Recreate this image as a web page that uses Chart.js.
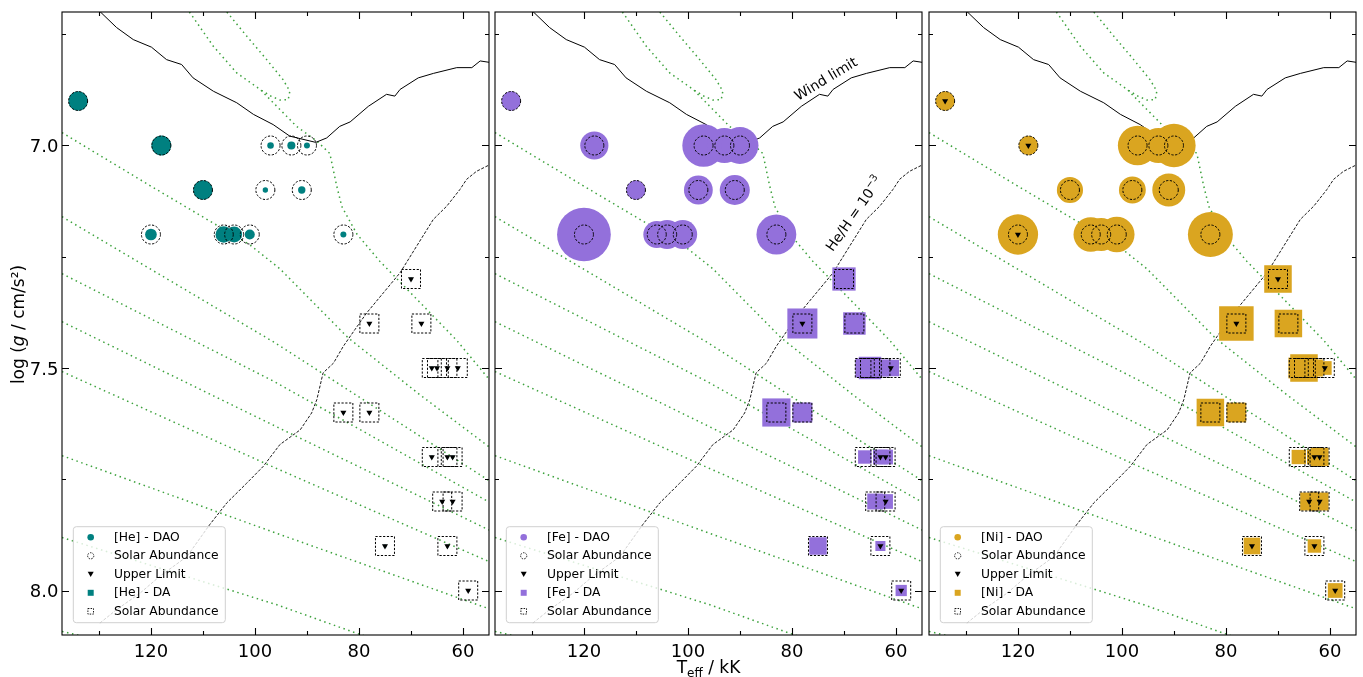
<!DOCTYPE html>
<html>
<head>
<meta charset="utf-8">
<script src="https://cdn.jsdelivr.net/npm/chart.js@4.4.1/dist/chart.umd.min.js"></script>
<style>
  html, body { margin: 0; padding: 0; background: #fff; }
  #wrap { position: relative; width: 1363px; height: 677px; }
  #wrap canvas { position: absolute; left: 0; top: 0; }
</style>
</head>
<body>
<div id="wrap">
  <canvas id="pHe" width="1363" height="677"></canvas>
  <canvas id="pFe" width="1363" height="677"></canvas>
  <canvas id="pNi" width="1363" height="677"></canvas>
</div>
<script>
// ---- stars: Teff (kK) and log g ----
const daoTeff = [134, 118, 97, 93, 90, 110, 98, 91, 120, 106, 104, 101, 83];
const daoLogg = [6.9, 7.0, 7.0, 7.0, 7.0, 7.1, 7.1, 7.1, 7.2, 7.2, 7.2, 7.2, 7.2];
const daTeff = [70, 78, 68, 66, 65, 63, 61, 83, 78, 66, 63, 62, 64, 62, 75, 63, 59];
const daLogg = [7.3, 7.4, 7.4, 7.5, 7.5, 7.5, 7.5, 7.6, 7.6, 7.7, 7.7, 7.7, 7.8, 7.8, 7.9, 7.9, 8.0];

// abundances relative to solar (1 = solar), and upper-limit flags
const heDao = [1.05, 1.1, 0.12, 0.18, 0.10, 1.05, 0.08, 0.15, 0.38, 0.75, 0.7, 0.28, 0.10];
const heDaoLimit = [0, 0, 0, 0, 0, 0, 0, 0, 0, 0, 0, 0, 0];
const heDa = [0.02, 0.02, 0.02, 0.02, 0.02, 0.02, 0.02, 0.02, 0.02, 0.02, 0.02, 0.02, 0.02, 0.02, 0.02, 0.02, 0.02];
const heDaLimit = [1, 1, 1, 1, 1, 1, 1, 1, 1, 1, 1, 1, 1, 1, 1, 1, 1];

const feDao = [1.03, 2.2, 5.0, 3.4, 3.8, 1.03, 2.3, 2.5, 8.0, 2.0, 2.3, 2.3, 4.4];
const feDaoLimit = [0, 0, 0, 0, 0, 0, 0, 0, 0, 0, 0, 0, 0];
const feDa = [1.5, 2.5, 1.4, 1.0, 1.4, 0.8, 0.75, 2.2, 1.1, 0.5, 0.6, 0.6, 0.7, 0.6, 0.85, 0.28, 0.35];
const feDaLimit = [0, 1, 0, 0, 0, 0, 1, 0, 0, 0, 1, 1, 0, 1, 0, 1, 1];

const niDao = [1.03, 1.03, 4.3, 3.4, 5.2, 1.9, 2.0, 3.0, 4.5, 3.3, 3.0, 3.5, 5.6];
const niDaoLimit = [1, 1, 0, 0, 0, 0, 0, 0, 1, 0, 0, 0, 0];
const niDa = [2.1, 3.3, 2.1, 1.2, 2.1, 0.8, 0.52, 2.1, 1.07, 0.57, 0.6, 0.9, 0.9, 0.9, 0.77, 0.5, 0.6];
const niDaLimit = [1, 1, 0, 0, 0, 0, 1, 0, 0, 0, 1, 1, 1, 1, 1, 1, 1];

// ---- wind limit and He/H = 1e-3 boundary ----
const windTeff = [129.8, 126.6, 123.4, 119.9, 117.0, 114.1, 111.9, 108.0, 103.5, 100.3, 96.5, 93.3, 88.3,
                  86.2, 83.7, 81.7, 78.2, 74.7, 73.1, 72.1, 68.6, 65.7, 61.2, 58.3, 56.7, 55.0];
const windLogg = [6.699, 6.735, 6.762, 6.779, 6.807, 6.818, 6.848, 6.878, 6.904, 6.930, 6.953, 6.979, 6.993,
                  6.983, 6.957, 6.947, 6.912, 6.885, 6.889, 6.874, 6.848, 6.838, 6.825, 6.825, 6.810, 6.813];
const heHTeff = [129.8, 126.6, 122.1, 118.3, 113.1, 108.7, 105.4, 101.6, 98.4, 95.2, 91.3, 89.1, 88.1, 86.9,
                 84.9, 83.0, 80.8, 78.5, 75.3, 72.1, 68.9, 65.7, 63.1, 60.6, 59.3, 57.4, 55.0];
const heHLogg = [8.073, 8.043, 8.006, 7.968, 7.924, 7.852, 7.803, 7.759, 7.721, 7.672, 7.639, 7.601, 7.571, 7.511,
                 7.489, 7.451, 7.414, 7.376, 7.331, 7.286, 7.226, 7.166, 7.136, 7.099, 7.076, 7.058, 7.044];

// ---- evolutionary tracks [Teff, log g] ----
const trackTop = [[112.6, 6.70], [108.0, 6.777], [103.5, 6.837], [99.0, 6.874], [95.2, 6.919], [92.0, 6.957],
                  [88.1, 6.990], [85.6, 7.018], [84.3, 7.090], [83.3, 7.137], [80.4, 7.199], [76.0, 7.260],
                  [71.5, 7.314], [67.0, 7.368], [61.2, 7.438], [55.0, 7.525]];
const trackHook = [[105.4, 6.70], [101.6, 6.754], [97.75, 6.807], [94.6, 6.852], [93.3, 6.878], [93.6, 6.897],
                   [95.2, 6.898], [97.1, 6.888], [99.0, 6.874]];
const trackA = [[137.1, 6.971], [120.2, 7.090], [101.0, 7.223], [95.2, 7.277], [82.1, 7.432], [68.3, 7.560], [55.0, 7.677]];
const trackB = [[137.1, 7.160], [96.2, 7.443], [55.0, 7.753]];
const trackC = [[137.1, 7.288], [96.2, 7.531], [55.0, 7.801]];
const trackD = [[137.1, 7.396], [96.2, 7.630], [55.0, 7.864]];
const trackE = [[137.1, 7.508], [96.2, 7.724], [55.0, 7.935]];
const trackF = [[137.1, 7.697], [96.2, 7.870], [55.0, 8.041]];
const trackG = [[137.1, 7.881], [95.8, 8.032], [81.2, 8.093], [68.3, 8.145]];
const trackH = [[137.1, 8.092], [122.1, 8.133]];

// ---- axes ----
const xTickValues = [60, 70, 80, 90, 100, 110, 120, 130];
const xTickLabels = [60, 80, 100, 120];
const yTickValues = [6.75, 7.0, 7.25, 7.5, 7.75, 8.0];
const yTickLabels = [7.0, 7.5, 8.0];

const GREEN = '#3da23d';
const SOLAR_SIZE = 19;        // marker diameter / side for solar abundance
const FONT = '"DejaVu Sans", "Liberation Sans", sans-serif';
const TOP = 12, BOTTOM = 635, W = 1363, H = 677;

const panels = [
  { id: 'pHe', left: 62, right: 489, el: 'He', color: '#008080', dao: heDao, daoLim: heDaoLimit, da: heDa, daLim: heDaLimit, yAxis: true },
  { id: 'pFe', left: 495, right: 922, el: 'Fe', color: '#9370db', dao: feDao, daoLim: feDaoLimit, da: feDa, daLim: feDaLimit, xTitle: true, notes: true },
  { id: 'pNi', left: 929, right: 1356, el: 'Ni', color: '#daa520', dao: niDao, daoLim: niDaoLimit, da: niDa, daLim: niDaLimit }
];

const pts = tr => tr.map(p => ({ x: p[0], y: p[1] }));
const zip = (xs, ys) => xs.map((v, i) => ({ x: v, y: ys[i] }));

// dashed outlines for the solar reference markers
const markerDashPlugin = {
  id: 'markerDash',
  beforeDatasetDraw(chart, args) {
    const ds = chart.data.datasets[args.index];
    if (ds.markerDash) { chart.ctx.save(); chart.ctx.setLineDash(ds.markerDash); }
  },
  afterDatasetDraw(chart, args) {
    if (chart.data.datasets[args.index].markerDash) chart.ctx.restore();
  }
};

function drawFrame(chart, def) {
  const { ctx, chartArea: a, scales: { x, y } } = chart;
  ctx.save();
  ctx.strokeStyle = '#000';
  ctx.lineWidth = 1.1;
  ctx.strokeRect(a.left, a.top, a.right - a.left, a.bottom - a.top);
  ctx.beginPath();
  xTickValues.forEach(v => {
    const px = Math.round(x.getPixelForValue(v)) + 0.5;
    const len = xTickLabels.includes(v) ? 7 : 4;
    ctx.moveTo(px, a.bottom); ctx.lineTo(px, a.bottom - len);
    ctx.moveTo(px, a.top); ctx.lineTo(px, a.top + len);
  });
  yTickValues.forEach(v => {
    const py = Math.round(y.getPixelForValue(v)) + 0.5;
    const len = yTickLabels.includes(v) ? 7 : 4;
    ctx.moveTo(a.left, py); ctx.lineTo(a.left + len, py);
    ctx.moveTo(a.right, py); ctx.lineTo(a.right - len, py);
  });
  ctx.stroke();

  ctx.fillStyle = '#000';
  ctx.font = '18px ' + FONT;
  ctx.textAlign = 'center';
  ctx.textBaseline = 'alphabetic';
  xTickLabels.forEach(v => ctx.fillText(String(v), x.getPixelForValue(v), a.bottom + 22));
  if (def.yAxis) {
    ctx.textAlign = 'right';
    yTickLabels.forEach(v => ctx.fillText(v.toFixed(1), a.left - 3.5, y.getPixelForValue(v) + 6.6));
  }
  ctx.restore();
}

function drawAxisTitles(chart, def) {
  const { ctx, chartArea: a } = chart;
  ctx.save();
  ctx.fillStyle = '#000';
  ctx.textBaseline = 'alphabetic';
  ctx.textAlign = 'left';
  if (def.xTitle) {
    const big = '17px ' + FONT, small = '12px ' + FONT;
    ctx.font = big; const w1 = ctx.measureText('T').width, w3 = ctx.measureText(' / kK').width;
    ctx.font = small; const w2 = ctx.measureText('eff').width;
    let sx = (a.left + a.right) / 2 - (w1 + w2 + w3) / 2;
    ctx.font = big; ctx.fillText('T', sx, 673);
    ctx.font = small; ctx.fillText('eff', sx + w1, 677);
    ctx.font = big; ctx.fillText(' / kK', sx + w1 + w2, 673);
  }
  if (def.yAxis) {
    ctx.translate(23.5, (a.top + a.bottom) / 2 + 1);
    ctx.rotate(-Math.PI / 2);
    const norm = '17px ' + FONT, ital = 'italic 17px ' + FONT;
    ctx.font = norm; const w1 = ctx.measureText('log (').width, w3 = ctx.measureText(' / cm/s\u00b2)').width;
    ctx.font = ital; const w2 = ctx.measureText('g').width;
    let sx = -(w1 + w2 + w3) / 2;
    ctx.font = norm; ctx.fillText('log (', sx, 0);
    ctx.font = ital; ctx.fillText('g', sx + w1, 0);
    ctx.font = norm; ctx.fillText(' / cm/s\u00b2)', sx + w1 + w2, 0);
  }
  ctx.restore();
}

function drawLegend(chart, def) {
  const { ctx, chartArea: a } = chart;
  const x0 = a.left + 11.3, y0 = 526.7, w = 152, h = 96;
  ctx.save();
  ctx.beginPath();
  ctx.roundRect(x0, y0, w, h, 3);
  ctx.fillStyle = 'rgba(255,255,255,0.8)';
  ctx.fill();
  ctx.strokeStyle = '#d0d0d0';
  ctx.lineWidth = 1;
  ctx.stroke();

  const labels = ['[' + def.el + '] - DAO', 'Solar Abundance', 'Upper Limit', '[' + def.el + '] - DA', 'Solar Abundance'];
  const mx = a.left + 28.7, tx = a.left + 52;
  ctx.font = '12.3px ' + FONT;
  ctx.textBaseline = 'middle';
  ctx.textAlign = 'left';
  labels.forEach((lab, i) => {
    const my = 537.3 + i * 18.5;
    ctx.save();
    ctx.beginPath();
    if (i === 0) {
      ctx.arc(mx, my, 3.3, 0, Math.PI * 2);
      ctx.fillStyle = def.color; ctx.fill();
    } else if (i === 1) {
      ctx.arc(mx, my, 3.1, 0, Math.PI * 2);
      ctx.setLineDash([1.5, 1.2]); ctx.lineWidth = 0.9; ctx.strokeStyle = '#000'; ctx.stroke();
    } else if (i === 2) {
      ctx.moveTo(mx - 3, my - 2.6); ctx.lineTo(mx + 3, my - 2.6); ctx.lineTo(mx, my + 2.6); ctx.closePath();
      ctx.fillStyle = '#000'; ctx.fill();
    } else if (i === 3) {
      ctx.rect(mx - 3, my - 3, 6, 6);
      ctx.fillStyle = def.color; ctx.fill();
    } else {
      ctx.rect(mx - 2.8, my - 2.8, 5.6, 5.6);
      ctx.setLineDash([1.5, 1.2]); ctx.lineWidth = 0.9; ctx.strokeStyle = '#000'; ctx.stroke();
    }
    ctx.restore();
    ctx.fillStyle = '#000';
    ctx.fillText(lab, tx, my + 0.5);
  });
  ctx.restore();
}

function drawNotes(chart) {
  const { ctx, scales: { x, y } } = chart;
  ctx.save();
  ctx.fillStyle = '#000';
  ctx.font = '14px ' + FONT;
  ctx.textAlign = 'center';
  ctx.textBaseline = 'middle';
  ctx.translate(x.getPixelForValue(73.4), y.getPixelForValue(6.852));
  ctx.rotate(-31 * Math.PI / 180);
  ctx.fillText('Wind limit', 0, 0);
  ctx.restore();

  ctx.save();
  ctx.fillStyle = '#000';
  ctx.translate(x.getPixelForValue(68.1), y.getPixelForValue(7.153));
  ctx.rotate(-55 * Math.PI / 180);
  const main = 'He/H = 10', sup = '\u22123';
  ctx.font = '14px ' + FONT; const w1 = ctx.measureText(main).width;
  ctx.font = '10px ' + FONT; const w2 = ctx.measureText(sup).width;
  const sx = -(w1 + w2) / 2;
  ctx.textAlign = 'left';
  ctx.textBaseline = 'alphabetic';
  ctx.font = '14px ' + FONT; ctx.fillText(main, sx, 5);
  ctx.font = '10px ' + FONT; ctx.fillText(sup, sx + w1, -1);
  ctx.restore();
}

function makePanel(def) {
  const daoPts = zip(daoTeff, daoLogg);
  const daPts = zip(daTeff, daLogg);
  const limitPts = daoPts.filter((p, i) => def.daoLim[i]).concat(daPts.filter((p, i) => def.daLim[i]));

  const lineSet = (data, color, width, dash, order) => ({
    data, showLine: true, borderColor: color, borderWidth: width, borderDash: dash,
    borderCapStyle: 'butt', pointRadius: 0, tension: 0, fill: false, clip: 0, order
  });

  const datasets = [
    ...[trackTop, trackHook, trackA, trackB, trackC, trackD, trackE, trackF, trackG, trackH]
      .map(tr => lineSet(pts(tr), GREEN, 1.5, [1.5, 3.6], 7)),
    lineSet(zip(windTeff, windLogg), '#000', 1, [], 6),
    lineSet(zip(heHTeff, heHLogg), '#000', 0.9, [3, 1.6], 6),
    {
      data: daoPts, pointStyle: 'circle', clip: 0, order: 5,
      pointRadius: c => SOLAR_SIZE / 2 * Math.sqrt(def.dao[c.dataIndex]),
      pointBackgroundColor: def.color, pointBorderWidth: 0
    },
    {
      data: daPts, pointStyle: 'rect', clip: 0, order: 4,
      pointRadius: c => SOLAR_SIZE * Math.sqrt(def.da[c.dataIndex]) / Math.SQRT2,
      pointBackgroundColor: def.color, pointBorderWidth: 0
    },
    {
      data: daoPts, pointStyle: 'circle', clip: 0, order: 3, markerDash: [2.2, 1.6],
      pointRadius: SOLAR_SIZE / 2, pointBackgroundColor: 'rgba(0,0,0,0)',
      pointBorderColor: '#000', pointBorderWidth: 1
    },
    {
      data: daPts, pointStyle: 'rect', clip: 0, order: 2, markerDash: [2.2, 1.6],
      pointRadius: SOLAR_SIZE / Math.SQRT2, pointBackgroundColor: 'rgba(0,0,0,0)',
      pointBorderColor: '#000', pointBorderWidth: 1
    },
    {
      data: limitPts, pointStyle: 'triangle', pointRotation: 180, clip: 0, order: 1,
      pointRadius: 3.5, pointBackgroundColor: '#000', pointBorderWidth: 0
    }
  ];

  const decor = {
    id: 'decor',
    afterDraw(chart) {
      drawFrame(chart, def);
      if (def.notes) drawNotes(chart);
      drawLegend(chart, def);
      drawAxisTitles(chart, def);
    }
  };

  return new Chart(document.getElementById(def.id), {
    type: 'scatter',
    data: { datasets },
    options: {
      responsive: false,
      animation: false,
      devicePixelRatio: 1,
      events: [],
      layout: {
        autoPadding: false,
        padding: { left: def.left, right: W - def.right, top: TOP, bottom: H - BOTTOM }
      },
      scales: {
        x: { type: 'linear', min: 55, max: 137.1, reverse: true, display: false },
        y: { type: 'linear', min: 6.7, max: 8.1, reverse: true, display: false }
      },
      plugins: { legend: { display: false }, tooltip: { enabled: false } }
    },
    plugins: [markerDashPlugin, decor]
  });
}

panels.forEach(makePanel);
</script>
</body>
</html>
